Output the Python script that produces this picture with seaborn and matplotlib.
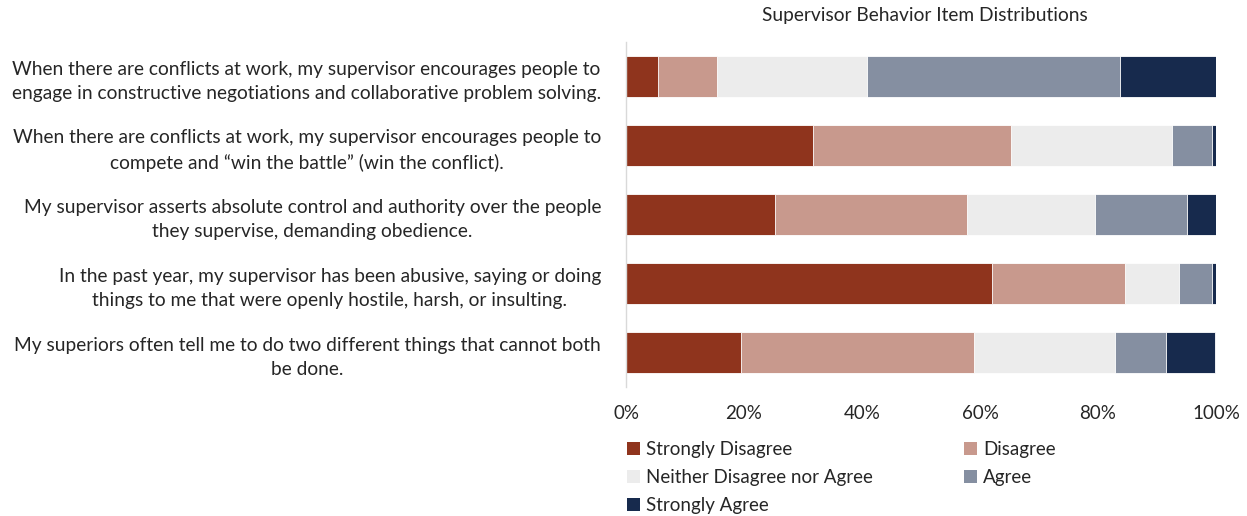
import numpy as np
import pandas as pd
import matplotlib
matplotlib.use("Agg")
import matplotlib.pyplot as plt
import seaborn as sns
from matplotlib.patches import Patch

items = [
    "When there are conflicts at work, my supervisor encourages people to\nengage in constructive negotiations and collaborative problem solving.",
    "When there are conflicts at work, my supervisor encourages people to\ncompete and \u201cwin the battle\u201d (win the conflict).",
    "My supervisor asserts absolute control and authority over the people\nthey supervise, demanding obedience.",
    "In the past year, my supervisor has been abusive, saying or doing\nthings to me that were openly hostile, harsh, or insulting.",
    "My superiors often tell me to do two different things that cannot both\nbe done.",
]
categories = ["Strongly Disagree", "Disagree", "Neither Disagree nor Agree",
              "Agree", "Strongly Agree"]

strongly_disagree = [5.4, 31.7, 25.3, 62.1, 19.5]
disagree = [10.0, 33.6, 32.5, 22.4, 39.4]
neither = [25.5, 27.2, 21.7, 9.3, 24.0]
agree = [42.9, 6.9, 15.6, 5.6, 8.7]
strongly_agree = [16.2, 0.6, 4.9, 0.6, 8.3]

colors = ["#8F341D", "#C8998D", "#ECECEC", "#858FA1", "#172A4D"]

sns.set_theme(style="white")
plt.rcParams["font.family"] = ["Lato", "DejaVu Sans"]

df = pd.DataFrame({
    "item": items,
    categories[0]: strongly_disagree,
    categories[1]: disagree,
    categories[2]: neither,
    categories[3]: agree,
    categories[4]: strongly_agree,
})
cum = df[categories].cumsum(axis=1)

fig = plt.figure(figsize=(12.47, 5.16), dpi=100)
ax = fig.add_axes([626 / 1247, 1 - 387 / 516, 590 / 1247, 345 / 516])

# Stack by overlaying cumulative totals, longest first
for cat, col in reversed(list(zip(categories, colors))):
    sns.barplot(data=cum.assign(item=df["item"]), x=cat, y="item",
                orient="h", color=col, width=0.58, saturation=1,
                edgecolor="white", linewidth=0.6, ax=ax)

ax.set_xlim(0, 100)
ax.set_ylim(4.5, -0.5)
ax.set_xlabel("")
ax.set_ylabel("")
ax.set_xticks([0, 20, 40, 60, 80, 100])
ax.set_xticklabels([f"{v}%" for v in [0, 20, 40, 60, 80, 100]], fontsize=13.5,
                   color="#262626")
ax.tick_params(axis="x", length=0, pad=13)
ax.tick_params(axis="y", length=0, pad=18)
for lab in ax.get_yticklabels():
    lab.set_fontsize(13.75)
    lab.set_color("#262626")
    lab.set_multialignment("center")
    lab.set_linespacing(1.5)

for s in ["top", "right", "bottom"]:
    ax.spines[s].set_visible(False)
ax.spines["left"].set_color("#D9D9D9")
ax.spines["left"].set_linewidth(1.0)

fig.text(925 / 1247, 1 - 16 / 516, "Supervisor Behavior Item Distributions",
         ha="center", va="center", fontsize=13.8, color="#262626")

handles = [Patch(facecolor=c, edgecolor="none") for c in colors]
order = [0, 2, 4, 1, 3]
fig.legend([handles[i] for i in order], [categories[i] for i in order],
           ncol=2, loc="upper left", bbox_to_anchor=(627 / 1247, 1 - 441 / 516),
           frameon=False, fontsize=13.5, handlelength=0.68, handleheight=0.68,
           handletextpad=0.35, columnspacing=4.85, labelspacing=0.58,
           borderpad=0, borderaxespad=0, labelcolor="#262626")

fig.savefig("out.png", dpi=100, facecolor="white")
